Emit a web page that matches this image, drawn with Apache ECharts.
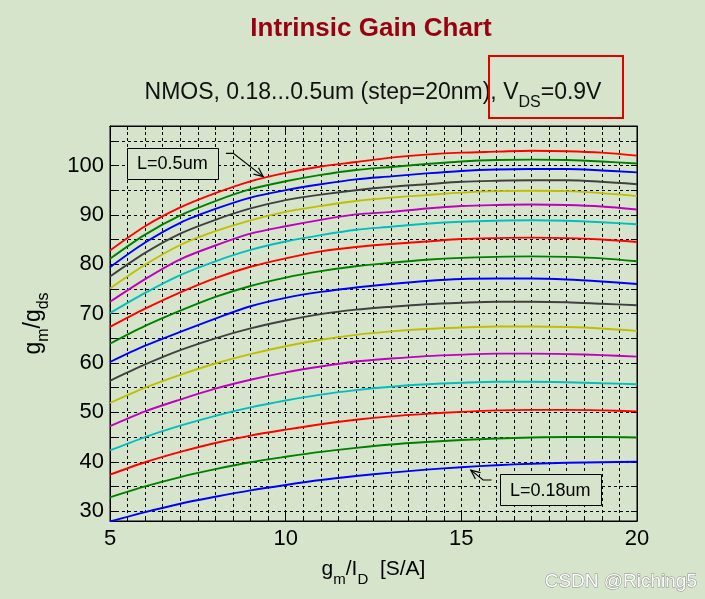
<!DOCTYPE html>
<html>
<head>
<meta charset="utf-8">
<script src="https://cdn.jsdelivr.net/npm/echarts@6/dist/echarts.min.js"></script>
<style>
html,body{margin:0;padding:0;background:#d5e4ca;}
#c{width:705px;height:599px;}
</style>
</head>
<body>
<div id="c"></div>
<script>
// ---- data ----
const gmId = [5, 6, 7, 8, 9, 10, 11, 12, 13, 14, 15, 16, 17, 18, 19, 20];
const lengthLabels = ['0.18','0.20','0.22','0.24','0.26','0.28','0.30','0.32','0.34','0.36','0.38','0.40','0.42','0.44','0.46','0.48','0.50'];
const gain018 = [27.9, 29.8, 31.5, 32.9, 34.2, 35.3, 36.3, 37.1, 37.8, 38.4, 38.9, 39.3, 39.6, 39.8, 39.9, 40.0];
const gain020 = [32.8, 35.0, 36.9, 38.5, 39.9, 41.0, 42.0, 42.8, 43.5, 44.0, 44.4, 44.7, 44.9, 45.0, 45.0, 44.9];
const gain022 = [37.4, 39.9, 42.0, 43.8, 45.3, 46.5, 47.6, 48.5, 49.2, 49.7, 50.1, 50.4, 50.5, 50.5, 50.4, 50.2];
const gain024 = [42.3, 45.0, 47.3, 49.3, 51.0, 52.4, 53.6, 54.5, 55.2, 55.7, 56.0, 56.2, 56.2, 56.1, 55.9, 55.7];
const gain026 = [47.2, 50.2, 52.6, 54.8, 56.6, 58.1, 59.3, 60.3, 60.9, 61.4, 61.7, 61.9, 61.9, 61.8, 61.6, 61.3];
const gain028 = [51.9, 55.0, 57.6, 59.9, 61.8, 63.4, 64.7, 65.7, 66.4, 66.9, 67.2, 67.4, 67.4, 67.3, 67.0, 66.5];
const gain030 = [56.4, 59.7, 62.6, 65.0, 67.0, 68.6, 69.9, 70.8, 71.4, 71.9, 72.2, 72.4, 72.4, 72.3, 72.0, 71.7];
const gain032 = [60.2, 63.5, 66.3, 69.0, 71.5, 73.2, 74.4, 75.3, 76.0, 76.6, 77.0, 77.1, 77.1, 76.9, 76.5, 76.0];
const gain034 = [63.9, 67.5, 70.6, 73.4, 75.6, 77.3, 78.6, 79.6, 80.3, 80.9, 81.3, 81.5, 81.6, 81.5, 81.2, 80.6];
const gain036 = [67.3, 71.0, 74.3, 77.2, 79.5, 81.2, 82.6, 83.5, 84.1, 84.6, 85.1, 85.3, 85.4, 85.3, 85.0, 84.5];
const gain038 = [70.1, 74.2, 77.8, 80.6, 82.9, 84.6, 85.9, 87.0, 87.6, 88.2, 88.6, 88.8, 88.9, 88.8, 88.5, 88.1];
const gain040 = [72.4, 77.0, 81.0, 83.8, 86.2, 87.7, 89.0, 90.1, 90.6, 91.3, 91.8, 92.0, 92.1, 92.0, 91.7, 91.1];
const gain042 = [75.1, 79.9, 83.9, 86.7, 88.9, 90.6, 91.8, 92.8, 93.5, 94.0, 94.5, 94.8, 94.9, 94.8, 94.4, 93.8];
const gain044 = [77.5, 82.3, 86.2, 89.0, 91.3, 93.0, 94.1, 95.0, 95.7, 96.2, 96.7, 96.9, 97.0, 97.0, 96.7, 96.2];
const gain046 = [79.4, 84.4, 88.4, 91.2, 93.5, 95.0, 96.2, 97.2, 97.8, 98.4, 98.9, 99.2, 99.3, 99.3, 99.0, 98.6];
const gain048 = [81.1, 86.0, 89.9, 92.8, 95.2, 96.8, 98.1, 99.1, 99.7, 100.3, 100.8, 101.1, 101.2, 101.1, 100.8, 100.4];
const gain050 = [82.8, 87.7, 91.5, 94.4, 96.8, 98.5, 99.8, 100.7, 101.6, 102.2, 102.6, 102.8, 103.0, 102.9, 102.6, 102.0];
const gainSeries = [gain018, gain020, gain022, gain024, gain026, gain028, gain030, gain032, gain034,
                    gain036, gain038, gain040, gain042, gain044, gain046, gain048, gain050];
const lineColors = ['#0000ff', '#008000', '#ff0000', '#00bfbf', '#bf00bf', '#bfbf00', '#404040'];
const yTickValues = [30, 35, 40, 45, 50, 55, 60, 65, 70, 75, 80, 85, 90, 95, 100, 105];
const yLabelValues = [30, 40, 50, 60, 70, 80, 90, 100];
// annotation anchors in data coordinates
const noteTop = { text: 'L=0.5um', boxFrom: [5.48, 103.55], boxTo: [8.07, 97.25], arrow: [[8.30, 102.47], [8.51, 102.47], [9.36, 97.75]] };
const noteBottom = { text: 'L=0.18um', boxFrom: [16.09, 37.5], boxTo: [18.97, 31.2], arrow: [[15.86, 36.3], [15.62, 36.3], [15.27, 38.3]] };

// ---- chart ----
const FONT = '"Liberation Sans", Arial, Helvetica, sans-serif';
const chart = echarts.init(document.getElementById('c'), null, { width: 705, height: 599 });

const gridLine = { show: true, lineStyle: { color: '#000', width: 1, type: [3, 3] } };
const series = gainSeries.map((arr, i) => ({
  name: 'L=' + lengthLabels[i] + 'um',
  type: 'line',
  data: gmId.map((x, k) => [x, arr[k]]),
  showSymbol: false,
  smooth: 0.3,
  clip: true,
  color: lineColors[i % lineColors.length],
  lineStyle: { width: 1.9, color: lineColors[i % lineColors.length] },
  z: 3 + i,
  silent: true
}));

const option = {
  animation: false,
  backgroundColor: '#d5e4ca',
  grid: { left: 110, top: 126, right: 68, bottom: 78, show: true, borderColor: '#000', borderWidth: 1, backgroundColor: 'transparent' },
  xAxis: [
    {
      type: 'value', min: 5, max: 20, interval: 5, position: 'bottom',
      axisLine: { show: true, onZero: false, lineStyle: { color: '#000', width: 1 } },
      axisTick: { show: true, inside: true, length: 8, lineStyle: { color: '#000' } },
      minorTick: { show: true, splitNumber: 10, length: 4, lineStyle: { color: '#000' } },
      splitLine: gridLine,
      minorSplitLine: gridLine,
      axisLabel: { fontSize: 22, color: '#000', margin: 7, fontFamily: FONT },
      name: '{a|g}{s|m}{a|/I}{s|D}{a|  [S/A]}',
      nameLocation: 'middle', nameGap: 30,
      nameTextStyle: {
        fontFamily: FONT, color: '#000',
        rich: {
          a: { fontSize: 21, fontFamily: FONT, color: '#000', lineHeight: 36, verticalAlign: 'middle' },
          s: { fontSize: 15, fontFamily: FONT, color: '#000', lineHeight: 15, verticalAlign: 'bottom' }
        }
      }
    },
    {
      type: 'value', min: 5, max: 20, interval: 5, position: 'top',
      axisLine: { show: true, onZero: false, lineStyle: { color: '#000', width: 1 } },
      axisTick: { show: true, inside: true, length: 8, lineStyle: { color: '#000' } },
      minorTick: { show: true, splitNumber: 10, length: 4, lineStyle: { color: '#000' } },
      splitLine: { show: false }, axisLabel: { show: false }
    }
  ],
  yAxis: [
    {
      type: 'value', min: 28, max: 108, position: 'left',
      axisLine: { show: true, onZero: false, lineStyle: { color: '#000', width: 1 } },
      axisTick: { show: true, inside: true, length: 6, customValues: yTickValues, lineStyle: { color: '#000' } },
      splitLine: gridLine,
      axisLabel: { fontSize: 22, color: '#000', margin: 6, fontFamily: FONT, customValues: yLabelValues },
      name: '{a|g}{s|m}{a|/g}{s|ds}',
      nameLocation: 'middle', nameRotate: 90, nameGap: 58,
      nameTextStyle: {
        fontFamily: FONT, color: '#000',
        rich: {
          a: { fontSize: 23, fontFamily: FONT, color: '#000', lineHeight: 36, verticalAlign: 'middle' },
          s: { fontSize: 16, fontFamily: FONT, color: '#000', lineHeight: 16, verticalAlign: 'bottom' }
        }
      }
    },
    {
      type: 'value', min: 28, max: 108, position: 'right',
      axisLine: { show: true, onZero: false, lineStyle: { color: '#000', width: 1 } },
      axisTick: { show: true, inside: true, length: 6, customValues: yTickValues, lineStyle: { color: '#000' } },
      splitLine: { show: false }, axisLabel: { show: false }
    }
  ],
  series: series
};
chart.setOption(option);

// ---- annotations & titles ----
function toPx(p) { return chart.convertToPixel({ xAxisIndex: 0, yAxisIndex: 0 }, p); }
const graphics = [];
graphics.push({
  type: 'text', x: 371, y: 29, z: 100,
  style: { text: 'Intrinsic Gain Chart', fill: '#990012', font: 'bold 26px ' + FONT, align: 'center', verticalAlign: 'middle' }
});
graphics.push({
  type: 'text', x: 373, y: 93, z: 100,
  style: {
    text: '{a|NMOS, 0.18...0.5um (step=20nm), V}{s|DS}{a|=0.9V}',
    align: 'center', verticalAlign: 'middle',
    rich: {
      a: { fontSize: 23, fontFamily: FONT, fill: '#111', lineHeight: 36, verticalAlign: 'middle' },
      s: { fontSize: 16, fontFamily: FONT, fill: '#111', lineHeight: 16, verticalAlign: 'bottom' }
    }
  }
});
graphics.push({
  type: 'rect', z: 100, shape: { x: 489, y: 56, width: 134, height: 62 },
  style: { fill: 'none', stroke: '#e00000', lineWidth: 2 }
});
[noteTop, noteBottom].forEach(n => {
  const a = toPx(n.boxFrom), b = toPx(n.boxTo);
  graphics.push({
    type: 'rect', z: 100, shape: { x: Math.round(a[0]) + 0.5, y: Math.round(a[1]) + 0.5, width: Math.round(b[0] - a[0]), height: Math.round(b[1] - a[1]) },
    style: { fill: '#d5e4ca', stroke: '#000', lineWidth: 1 }
  });
  graphics.push({
    type: 'text', z: 101, x: (a[0] + b[0]) / 2, y: (a[1] + b[1]) / 2 + 1,
    style: { text: n.text, font: '18px ' + FONT, fill: '#000', align: 'center', verticalAlign: 'middle' }
  });
  const pts = n.arrow.map(toPx);
  graphics.push({ type: 'polyline', z: 101, shape: { points: pts }, style: { stroke: '#000', lineWidth: 1.2, fill: 'none' } });
  const tip = pts[pts.length - 1], prev = pts[pts.length - 2];
  const ang = Math.atan2(tip[1] - prev[1], tip[0] - prev[0]);
  const L = 10, w = 0.42;
  graphics.push({
    type: 'polyline', z: 101,
    shape: { points: [
      [tip[0] - L * Math.cos(ang - w), tip[1] - L * Math.sin(ang - w)],
      tip,
      [tip[0] - L * Math.cos(ang + w), tip[1] - L * Math.sin(ang + w)]
    ] },
    style: { stroke: '#000', lineWidth: 1.2, fill: 'none' }
  });
});
graphics.push({
  type: 'text', x: 697, y: 582, z: 100,
  style: { text: 'CSDN @Riching5', font: '19px ' + FONT, fill: '#ffffff', stroke: '#8a8a8a', lineWidth: 1, align: 'right', verticalAlign: 'middle' }
});
chart.setOption({ graphic: graphics });
</script>
</body>
</html>
